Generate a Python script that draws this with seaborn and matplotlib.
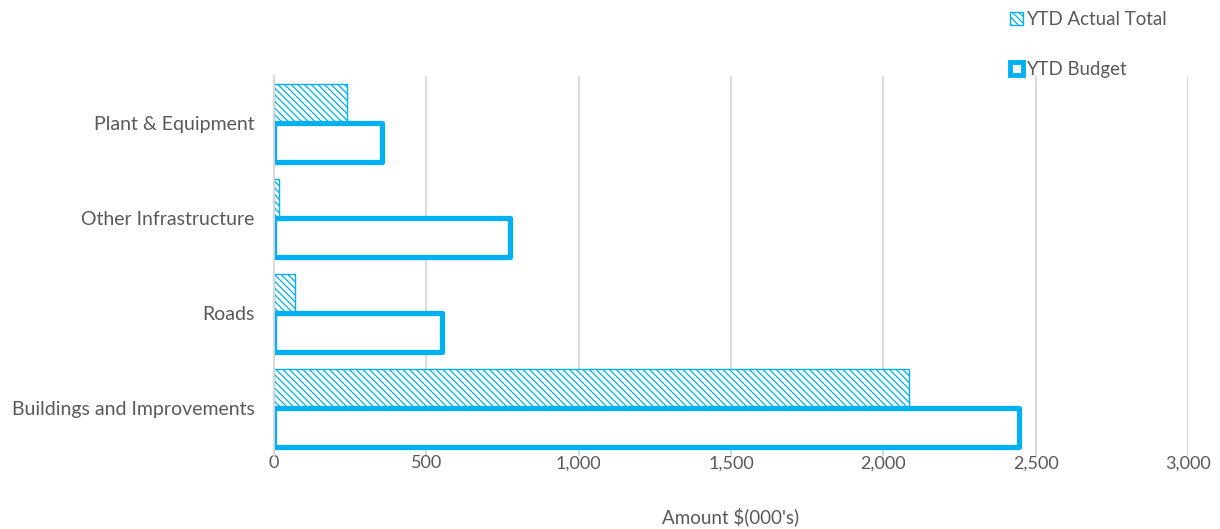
import matplotlib
matplotlib.use("Agg")
import matplotlib.pyplot as plt
from matplotlib.patches import Patch
from matplotlib.ticker import FuncFormatter
import pandas as pd
import seaborn as sns

categories = ["Plant & Equipment", "Other Infrastructure", "Roads", "Buildings and Improvements"]
ytd_actual = [240, 16, 68, 2084]
ytd_budget = [356, 776, 550, 2444]
series_names = ["YTD Actual Total", "YTD Budget"]
x_ticks = [0, 500, 1000, 1500, 2000, 2500, 3000]

BLUE = "#00B0F0"
GREY_TXT = "#595959"
GRID = "#D9D9D9"

df = pd.DataFrame({
    "category": categories * 2,
    "series": [series_names[0]] * len(categories) + [series_names[1]] * len(categories),
    "value": ytd_actual + ytd_budget,
})

sns.set_theme(style="white")
plt.rcParams["font.family"] = ["Lato", "DejaVu Sans"]
plt.rcParams["hatch.color"] = BLUE
plt.rcParams["hatch.linewidth"] = 0.9

HATCH = "\\\\\\\\\\"

fig = plt.figure(figsize=(12.2, 5.29), dpi=100)
ax = fig.add_axes([274 / 1220, 1 - 455.5 / 529, (1188 - 274) / 1220, (455.5 - 75.5) / 529])

sns.barplot(data=df, y="category", x="value", hue="series", order=categories,
            hue_order=series_names, orient="h", width=0.82, ax=ax, legend=False,
            saturation=1)

n = len(categories)
for i, bar in enumerate(ax.patches[:2 * n]):
    if i < n:
        bar.set_facecolor("white")
        bar.set_edgecolor(BLUE)
        bar.set_hatch(HATCH)
        bar.set_linewidth(1.0)
    else:
        bar.set_facecolor("white")
        bar.set_edgecolor(BLUE)
        bar.set_linewidth(3.8)
        bar.set_joinstyle("round")

ax.set_xlim(0, 3000)
ax.set_xticks(x_ticks)
ax.xaxis.set_major_formatter(FuncFormatter(lambda v, p: f"{int(v):,}"))
ax.grid(axis="x", color=GRID, linewidth=1.4)
ax.set_axisbelow(True)
for s in ["top", "right", "bottom"]:
    ax.spines[s].set_visible(False)
ax.spines["left"].set_color(GRID)
ax.spines["left"].set_linewidth(1.4)

ax.tick_params(axis="x", length=0, pad=0, labelsize=13, labelcolor=GREY_TXT)
ax.tick_params(axis="y", length=0, pad=14, labelsize=14, labelcolor=GREY_TXT)
ax.set_ylabel("")
ax.set_xlabel("Amount $(000's)", fontsize=13.5, color=GREY_TXT, labelpad=26)

handles = [
    Patch(facecolor="white", edgecolor=BLUE, hatch=HATCH, linewidth=1.0),
    Patch(facecolor="white", edgecolor=BLUE, linewidth=3.5),
]
fig.legend(handles, series_names, loc="upper left", bbox_to_anchor=(993 / 1220, 1 + 6 / 529),
           frameon=False, fontsize=13.4, labelcolor=GREY_TXT, handlelength=0.7,
           handleheight=0.7, handletextpad=0.2, labelspacing=1.8)

fig.savefig("out.png", dpi=100)
